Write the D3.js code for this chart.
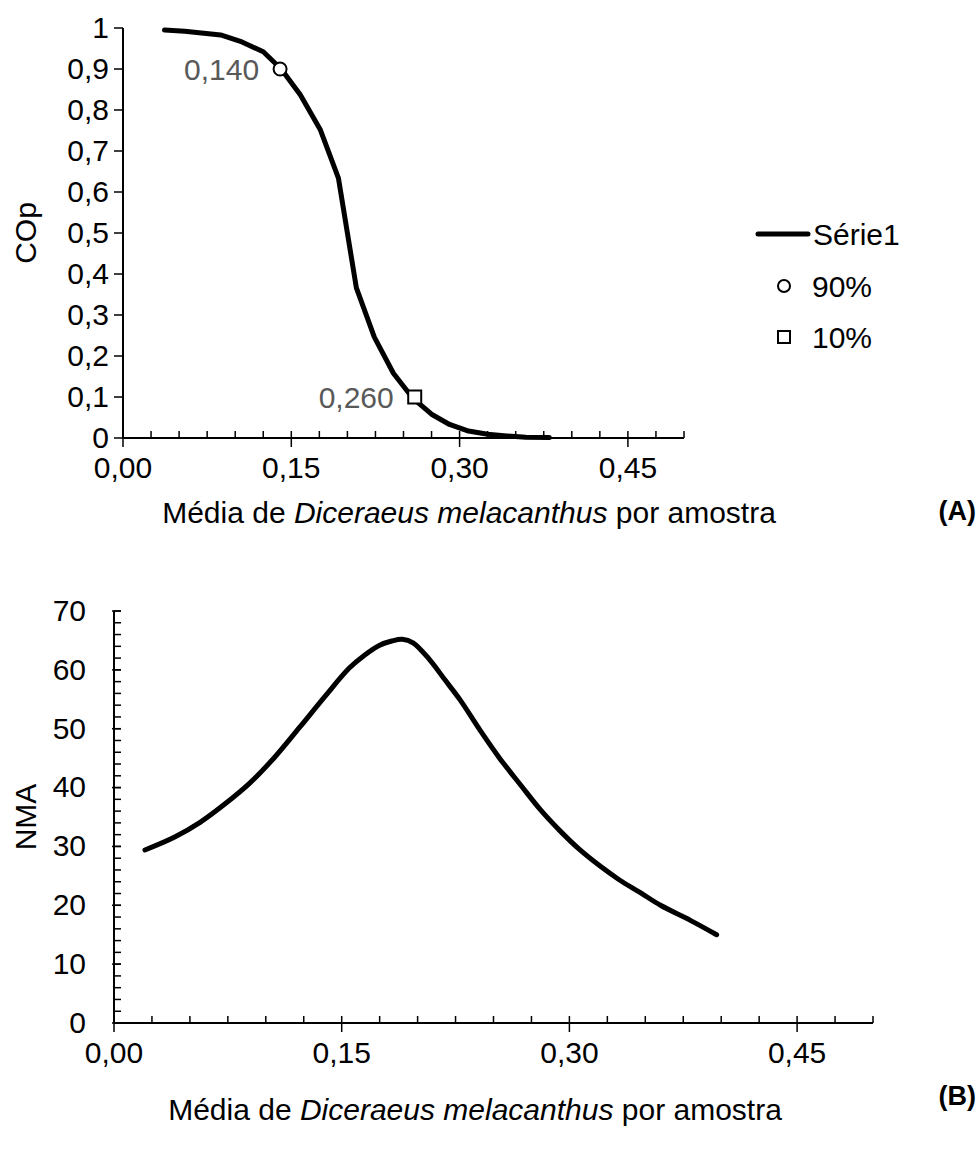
<!DOCTYPE html>
<html><head><meta charset="utf-8">
<script src="https://cdn.jsdelivr.net/npm/d3@7"></script>
<style>body{margin:0;background:#fff}svg{display:block}text{font-family:Arial,"Liberation Sans",sans-serif}</style>
</head><body><svg id="c" width="980" height="1160"></svg>
<script>
// ---- data: chart A (COp) ----
const copMean = [0.037,0.055,0.07,0.087,0.106,0.125,0.141,0.158,0.176,0.192,0.208,0.224,0.241,0.258,0.275,0.291,0.308,0.325,0.342,0.359,0.38];
const copValue = [0.995,0.992,0.988,0.983,0.966,0.942,0.900,0.837,0.751,0.634,0.366,0.246,0.158,0.098,0.058,0.033,0.017,0.009,0.005,0.002,0.001];
const markerMean = [0.140, 0.260];
const markerValue = [0.9, 0.1];
const markerLabels = ["0,140", "0,260"];
const legendLabels = ["Série1", "90%", "10%"];
const xTicks = [0, 0.15, 0.30, 0.45];
const yTicksA = [0,0.1,0.2,0.3,0.4,0.5,0.6,0.7,0.8,0.9,1];
// ---- data: chart B (NMA) ----
const nmaMean = [0.0204,0.04,0.0567,0.073,0.0896,0.106,0.1225,0.139,0.155,0.165,0.175,0.183,0.19,0.197,0.208,0.218,0.228,0.241,0.254,0.268,0.281,0.294,0.307,0.320,0.333,0.347,0.36,0.38,0.397];
const nmaValue = [29.4,31.6,34.1,37.2,40.8,45.2,50.3,55.5,60.3,62.5,64.2,64.9,65.2,64.6,61.7,58.3,54.9,49.8,45.0,40.4,36.2,32.6,29.4,26.7,24.3,22.1,20.0,17.4,15.0];
const yTicksB = [0,10,20,30,40,50,60,70];

const fmt = d => d3.format(".2f")(d).replace(".", ",");
const fmtY = d => String(d).replace(".", ",");
const svg = d3.select("#c");
const FS = 30;

function drawXAxis(g, x, y0, minor) {
  const [r0, r1] = x.range();
  g.append("line").attr("x1", r0).attr("x2", r1).attr("y1", y0).attr("y2", y0).attr("stroke", "#000").attr("stroke-width", 2);
  minor.forEach(v => {
    const major = xTicks.some(t => Math.abs(t - v) < 1e-9);
    g.append("line").attr("x1", x(v)).attr("x2", x(v))
      .attr("y1", y0 - 7).attr("y2", major ? y0 + 9 : y0)
      .attr("stroke", "#000").attr("stroke-width", 1.5);
  });
  xTicks.forEach(v => g.append("text").attr("x", x(v)).attr("y", y0 + 40).attr("text-anchor", "middle")
    .attr("font-size", FS).attr("fill", "#000").text(fmt(v)));
}
function xTitle(g, cx, y) {
  const t = g.append("text").attr("x", cx).attr("y", y).attr("text-anchor", "middle").attr("font-size", FS).attr("fill", "#000");
  t.append("tspan").text("Média de ");
  t.append("tspan").attr("font-style", "italic").text("Diceraeus melacanthus");
  t.append("tspan").text(" por amostra");
}
const minorX = d3.range(0, 21).map(i => i * 0.025);

// ---------- Chart A ----------
const xA = d3.scaleLinear().domain([0, 0.5]).range([123, 684]);
const yA = d3.scaleLinear().domain([0, 1]).range([438, 28]);
const gA = svg.append("g");
gA.append("line").attr("x1", xA(0)).attr("x2", xA(0)).attr("y1", yA(1)).attr("y2", yA(0)).attr("stroke", "#000").attr("stroke-width", 2);
yTicksA.forEach(v => {
  gA.append("line").attr("x1", xA(0) - 9).attr("x2", xA(0)).attr("y1", yA(v)).attr("y2", yA(v)).attr("stroke", "#000").attr("stroke-width", 1.5);
  gA.append("text").attr("x", 109).attr("y", yA(v)).attr("dy", "0.33em").attr("text-anchor", "end")
    .attr("font-size", FS).text(fmtY(v));
});
drawXAxis(gA, xA, yA(0), minorX);
xTitle(gA, 469, 523);
gA.append("text").attr("transform", `translate(36,${yA(0.5)}) rotate(-90)`).attr("text-anchor", "middle").attr("font-size", FS).text("COp");
const lineA = d3.line().x((d, i) => xA(copMean[i])).y((d, i) => yA(copValue[i]));
gA.append("path").attr("d", lineA(copMean)).attr("fill", "none").attr("stroke", "#000").attr("stroke-width", 5).attr("stroke-linejoin", "round").attr("stroke-linecap", "round");
gA.append("circle").attr("cx", xA(markerMean[0])).attr("cy", yA(markerValue[0])).attr("r", 6.5).attr("fill", "#fff").attr("stroke", "#000").attr("stroke-width", 2);
gA.append("rect").attr("x", xA(markerMean[1]) - 6.5).attr("y", yA(markerValue[1]) - 6.5).attr("width", 13).attr("height", 13).attr("fill", "#fff").attr("stroke", "#000").attr("stroke-width", 2);
markerLabels.forEach((l, i) => gA.append("text").attr("x", xA(markerMean[i]) - 21).attr("y", yA(markerValue[i])).attr("dy", "0.35em")
  .attr("text-anchor", "end").attr("font-size", FS).attr("fill", "#595959").text(l));
// legend
const lg = gA.append("g");
lg.append("line").attr("x1", 758).attr("x2", 808).attr("y1", 234).attr("y2", 234).attr("stroke", "#000").attr("stroke-width", 5).attr("stroke-linecap", "round");
lg.append("text").attr("x", 813).attr("y", 234).attr("dy", "0.35em").attr("font-size", FS).text(legendLabels[0]);
lg.append("circle").attr("cx", 784).attr("cy", 286).attr("r", 6).attr("fill", "#fff").attr("stroke", "#000").attr("stroke-width", 2);
lg.append("text").attr("x", 812).attr("y", 286).attr("dy", "0.35em").attr("font-size", FS).text(legendLabels[1]);
lg.append("rect").attr("x", 778).attr("y", 331).attr("width", 12).attr("height", 12).attr("fill", "#fff").attr("stroke", "#000").attr("stroke-width", 2);
lg.append("text").attr("x", 812).attr("y", 337).attr("dy", "0.35em").attr("font-size", FS).text(legendLabels[2]);
svg.append("text").attr("x", 976).attr("y", 520).attr("text-anchor", "end").attr("font-size", 27).attr("font-weight", "bold").text("(A)");

// ---------- Chart B ----------
const xB = d3.scaleLinear().domain([0, 0.5]).range([114, 873]);
const yB = d3.scaleLinear().domain([0, 70]).range([1023, 611]);
const gB = svg.append("g");
gB.append("line").attr("x1", xB(0)).attr("x2", xB(0)).attr("y1", yB(70)).attr("y2", yB(0)).attr("stroke", "#000").attr("stroke-width", 2);
d3.range(0, 71, 2).forEach(v => {
  gB.append("line").attr("x1", xB(0)).attr("x2", xB(0) + 7).attr("y1", yB(v)).attr("y2", yB(v)).attr("stroke", "#000").attr("stroke-width", 1.5);
});
yTicksB.forEach(v => {
  gB.append("line").attr("x1", xB(0) - 2).attr("x2", xB(0) + 7).attr("y1", yB(v)).attr("y2", yB(v)).attr("stroke", "#000").attr("stroke-width", 1.5);
  gB.append("text").attr("x", 86).attr("y", yB(v)).attr("dy", "0.33em").attr("text-anchor", "end").attr("font-size", FS).text(v);
});
drawXAxis(gB, xB, yB(0), minorX);
xTitle(gB, 475, 1120);
gB.append("text").attr("transform", `translate(36,${yB(35)}) rotate(-90)`).attr("text-anchor", "middle").attr("font-size", FS).text("NMA");
const lineB = d3.line().curve(d3.curveCatmullRom).x((d, i) => xB(nmaMean[i])).y((d, i) => yB(nmaValue[i]));
gB.append("path").attr("d", lineB(nmaMean)).attr("fill", "none").attr("stroke", "#000").attr("stroke-width", 5).attr("stroke-linejoin", "round").attr("stroke-linecap", "round");
svg.append("text").attr("x", 976).attr("y", 1105).attr("text-anchor", "end").attr("font-size", 27).attr("font-weight", "bold").text("(B)");
</script></body></html>
